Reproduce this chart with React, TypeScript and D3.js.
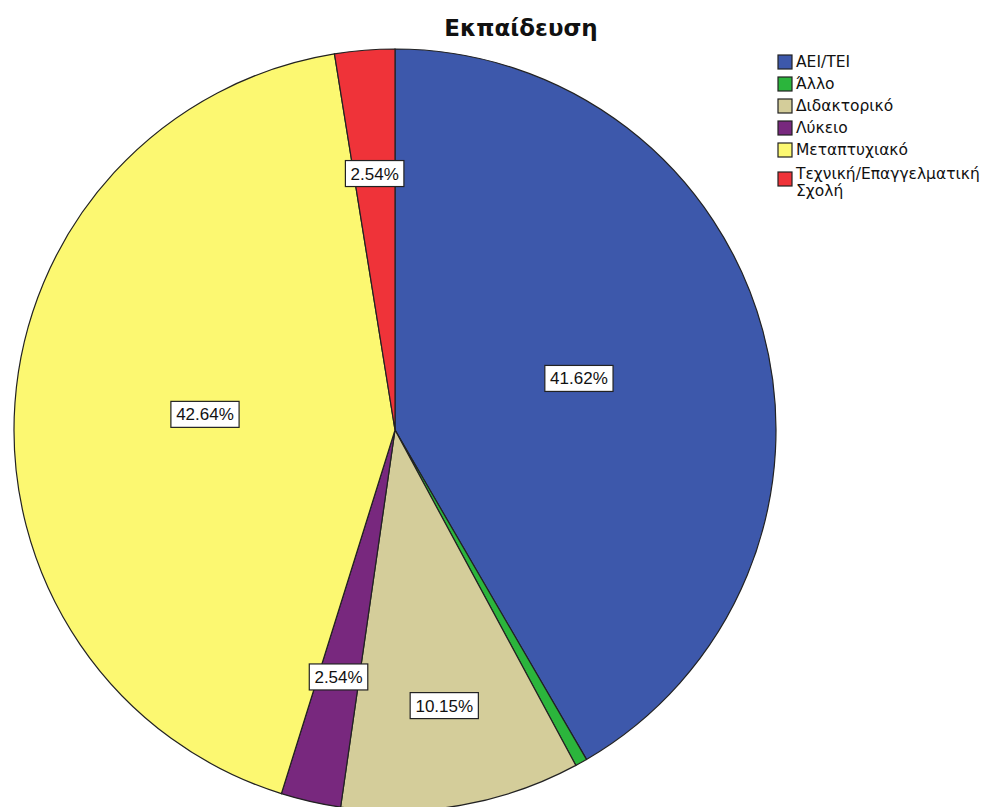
import React from "react";
import * as d3 from "d3";

const categories = ["ΑΕΙ/ΤΕΙ", "Άλλο", "Διδακτορικό", "Λύκειο", "Μεταπτυχιακό", "Τεχνική/Επαγγελματική Σχολή"];
const percents = [41.62, 0.51, 10.15, 2.54, 42.64, 2.54];
const showLabel = [true, false, true, true, true, true];
const colors = ["#3D58AB", "#2BB53C", "#D4CD9A", "#78287E", "#FCF871", "#EF3339"];
const legendLines = [["ΑΕΙ/ΤΕΙ"], ["Άλλο"], ["Διδακτορικό"], ["Λύκειο"], ["Μεταπτυχιακό"], ["Τεχνική/Επαγγελματική", "Σχολή"]];

const W = 988, H = 807;
const cx = 395, cy = 430, R = 381;

function labelFrac(p: number) {
  if (p > 20) return 0.5;
  if (p > 5) return 0.74;
  return 0.67;
}

export default function App() {
  const data = categories.map((c, i) => ({ c, v: percents[i], i }));
  const pie = d3.pie<any>().value((d) => d.v).sort(null);
  const arcs = pie(data);
  const arc = d3.arc<any>().innerRadius(0).outerRadius(R);
  const labelFont = "'Liberation Sans', Arial, sans-serif";
  const legendFont = "'DejaVu Sans', sans-serif";
  return (
    <svg width={W} height={H} style={{ position: "absolute", left: 0, top: 0, background: "#fff" }}>
      <text x={521} y={36} textAnchor="middle" fontSize={23} fontWeight="bold" fontFamily={legendFont} fill="#111">Εκπαίδευση</text>
      <g transform={`translate(${cx},${cy})`}>
        {arcs.map((a, i) => (
          <path key={i} d={arc(a) as string} fill={colors[i]} stroke="#222" strokeWidth={1.2} />
        ))}
        {arcs.map((a, i) => {
          if (!showLabel[i]) return null;
          const mid = (a.startAngle + a.endAngle) / 2;
          const r = R * labelFrac(percents[i]);
          const x = Math.sin(mid) * r, y = -Math.cos(mid) * r - 2;
          const txt = percents[i].toFixed(2) + "%";
          const w = txt.length * 9.7 + 10;
          return (
            <g key={"l" + i} transform={`translate(${x},${y})`}>
              <rect x={-w / 2} y={-13} width={w} height={26} fill="#fff" stroke="#222" strokeWidth={1.2} />
              <text x={0} y={6} textAnchor="middle" fontSize={17} fontFamily={labelFont} fill="#111">{txt}</text>
            </g>
          );
        })}
      </g>
      <g fontFamily={legendFont}>
        {legendLines.map((lines, i) => {
          const multi = lines.length > 1;
          const base = multi ? 179 : 67 + i * 22;
          const boxY = multi ? 172 : base - 12;
          return (
            <g key={"lg" + i}>
              <rect x={778} y={boxY} width={14} height={14} fill={colors[i]} stroke="#222" strokeWidth={1.2} />
              {lines.map((t, j) => (
                <text key={j} x={796} y={base + j * 17} fontSize={15.5} fill="#111">{t}</text>
              ))}
            </g>
          );
        })}
      </g>
    </svg>
  );
}
